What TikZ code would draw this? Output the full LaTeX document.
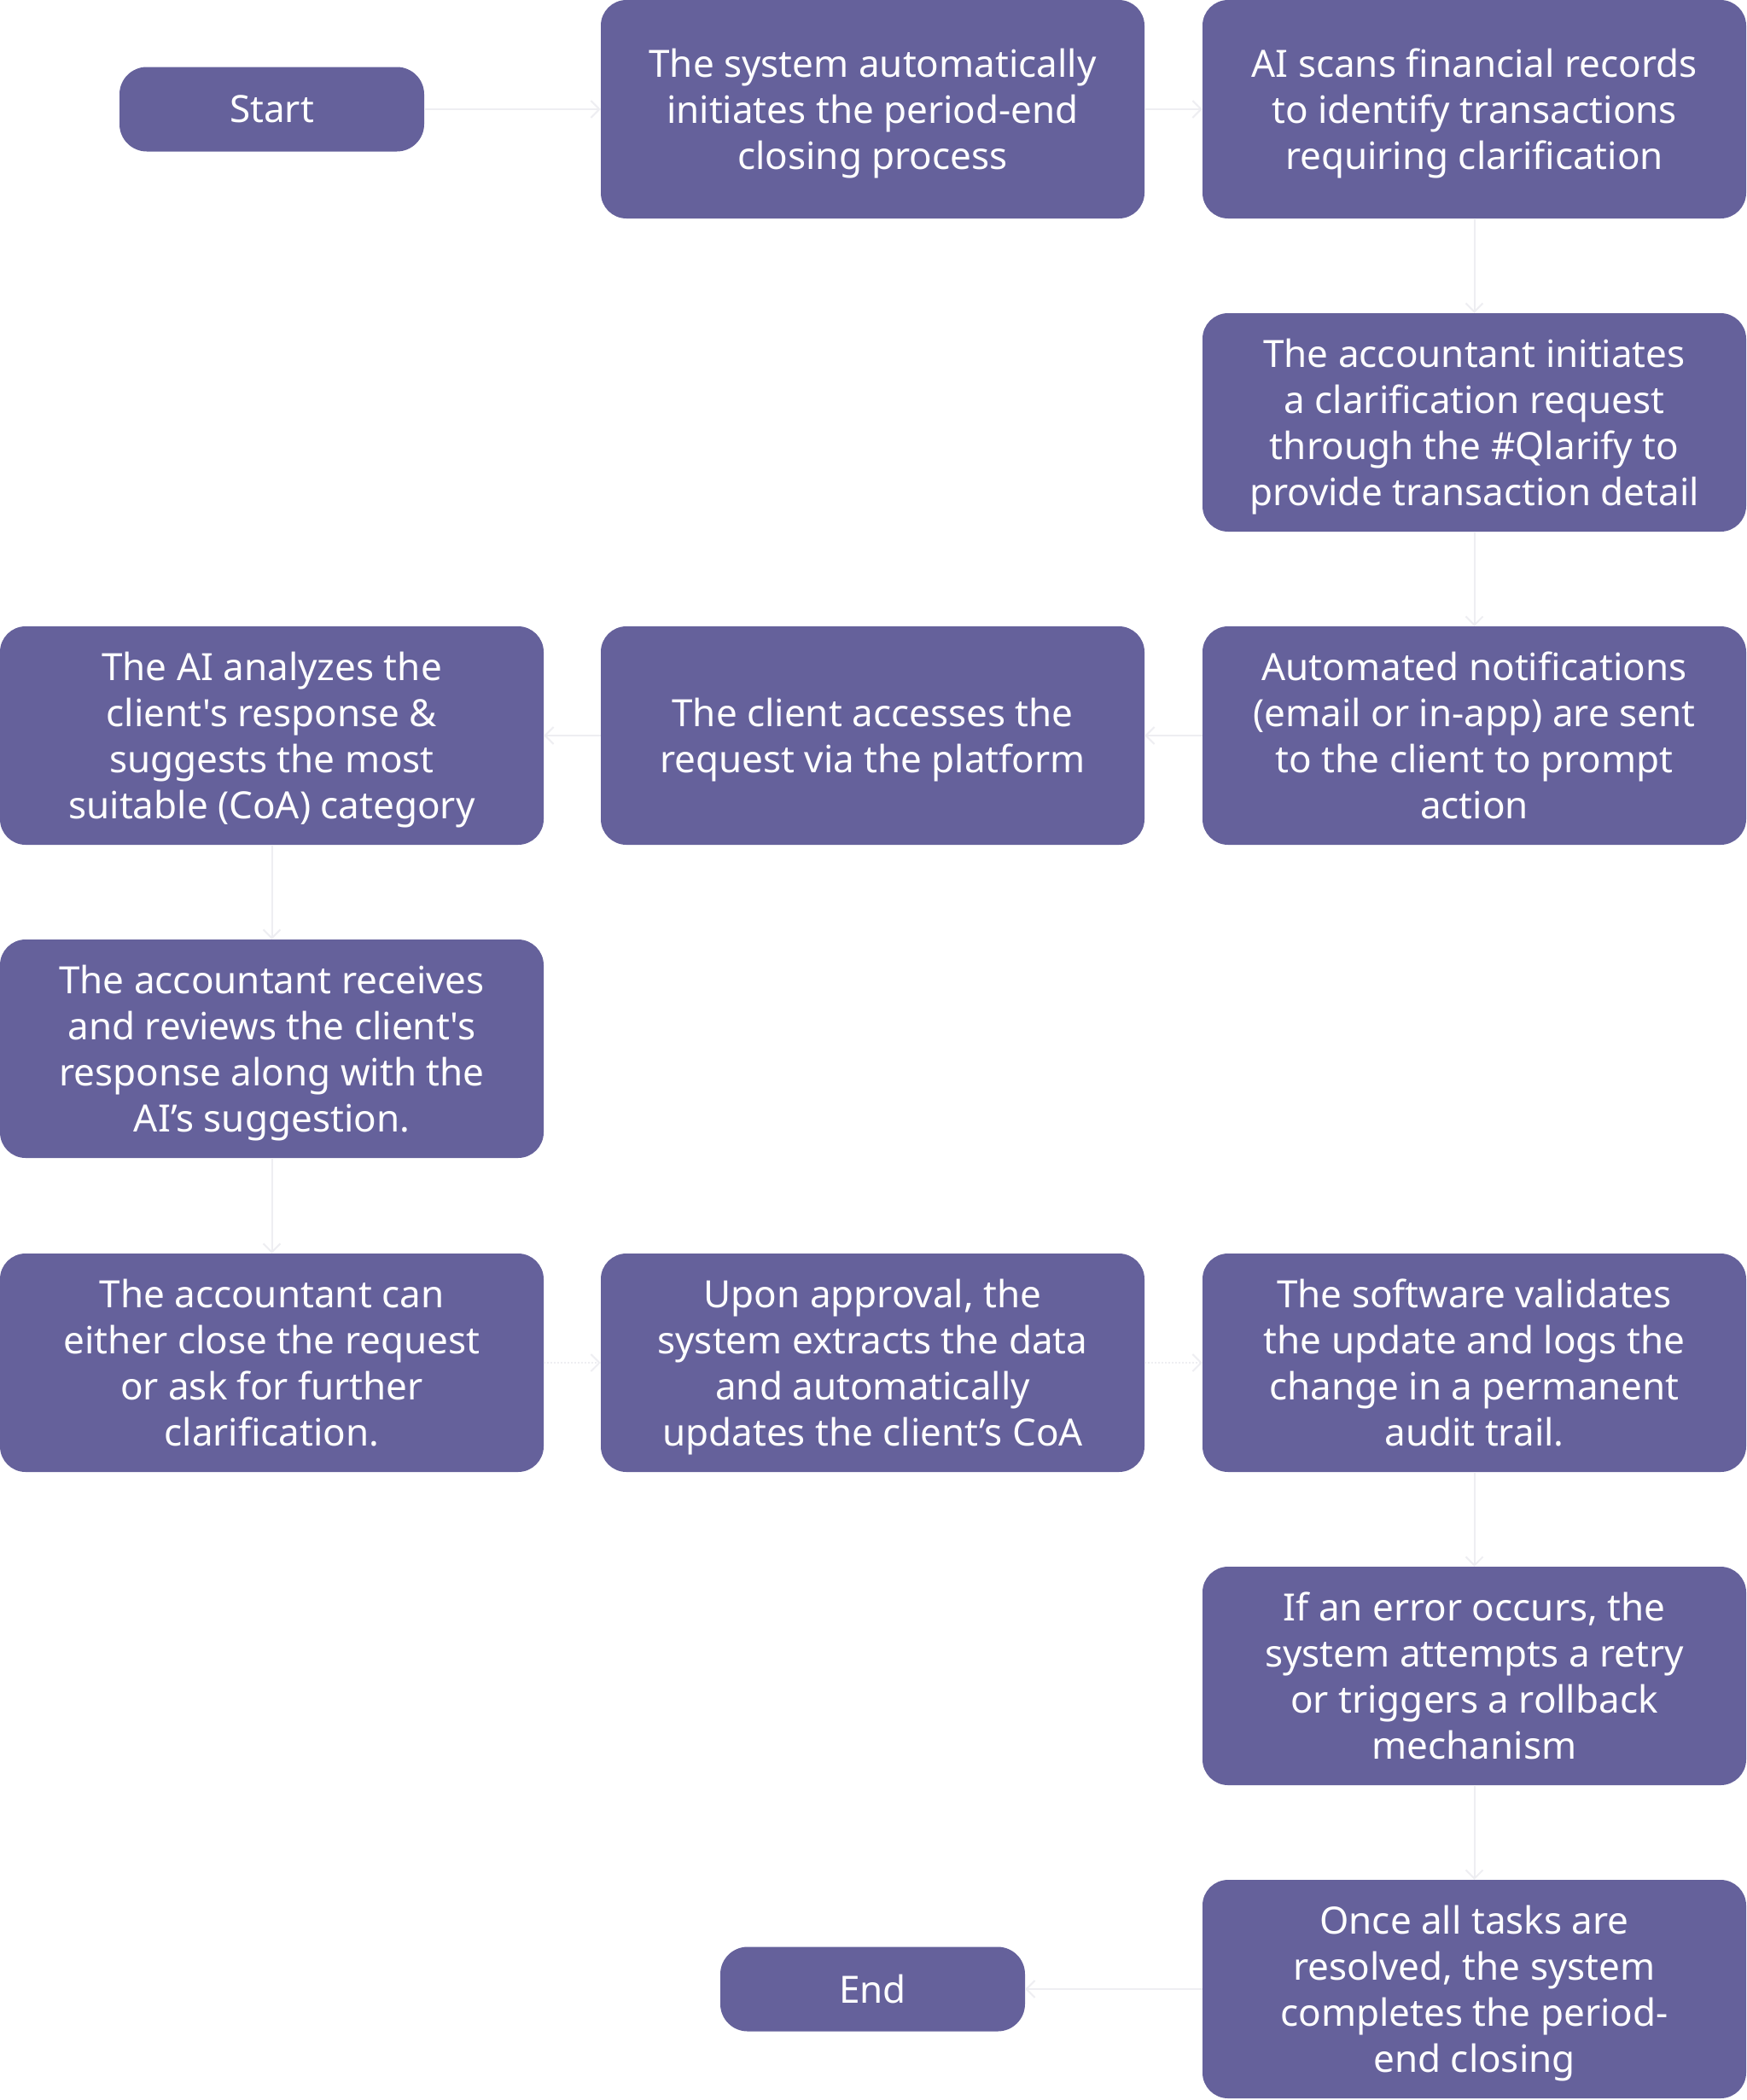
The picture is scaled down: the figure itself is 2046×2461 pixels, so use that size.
\documentclass[tikz,border=0pt]{standalone}
\usepackage{fontspec}
\setmainfont{Noto Sans}[Ligatures=TeXOff]
\usetikzlibrary{arrows.meta}
\definecolor{boxfill}{RGB}{101,97,155}
\definecolor{linkc}{RGB}{238,238,242}
\begin{document}
\begin{tikzpicture}[x=1pt,y=-1pt,
  stepbox/.style={rectangle, rounded corners=30pt, fill=boxfill, text=white,
    minimum width=637pt, minimum height=256pt, inner sep=0pt, align=center,
    text depth=0pt, font=\fontsize{44}{54}\selectfont},
  termbox/.style={rectangle, rounded corners=32pt, fill=boxfill, text=white,
    minimum width=357pt, minimum height=99pt, inner sep=0pt, align=center,
    font=\fontsize{44}{54}\selectfont},
  link/.style={draw=linkc, line width=2pt, -{Straight Barb[length=10pt,width=20pt]}},
  dotlink/.style={link, dotted}]
\useasboundingbox (0,0) rectangle (2046,2461);
\node[termbox] (start) at (318.5,128) {Start};
\node[stepbox] (sys) at (1022.5,128) {The system automatically\\initiates the period-end\\closing process};
\node[stepbox] (scan) at (1727.5,128) {AI scans financial records\\to identify transactions\\requiring clarification};
\node[stepbox] (init) at (1727.5,495) {The accountant initiates\\a clarification request\\through the \#Qlarify to\\provide transaction detail};
\node[stepbox] (analyze) at (318.5,862) {The AI analyzes the\\client's response \&\\suggests the most\\suitable (CoA) category};
\node[stepbox] (client) at (1022.5,862) {The client accesses the\\request via the platform};
\node[stepbox] (notif) at (1727.5,862) {Automated notifications\\(email or in-app) are sent\\to the client to prompt\\action};
\node[stepbox] (receives) at (318.5,1229) {The accountant receives\\and reviews the client's\\response along with the\\AI’s suggestion.};
\node[stepbox] (either) at (318.5,1597) {The accountant can\\either close the request\\or ask for further\\clarification.};
\node[stepbox] (approval) at (1022.5,1597) {Upon approval, the\\system extracts the data\\and automatically\\updates the client’s CoA};
\node[stepbox] (valid) at (1727.5,1597) {The software validates\\the update and logs the\\change in a permanent\\audit trail.};
\node[stepbox] (error) at (1727.5,1964) {If an error occurs, the\\system attempts a retry\\or triggers a rollback\\mechanism};
\node[stepbox] (once) at (1727.5,2331) {Once all tasks are\\resolved, the system\\completes the period-\\end closing};
\node[termbox] (end) at (1022.5,2331) {End};
\draw[link] (start) -- (sys);
\draw[link] (sys) -- (scan);
\draw[link] (scan) -- (init);
\draw[link] (init) -- (notif);
\draw[link] (notif) -- (client);
\draw[link] (client) -- (analyze);
\draw[link] (analyze) -- (receives);
\draw[link] (receives) -- (either);
\draw[dotlink] (either) -- (approval);
\draw[dotlink] (approval) -- (valid);
\draw[link] (valid) -- (error);
\draw[link] (error) -- (once);
\draw[link] (once) -- (end);
\end{tikzpicture}
\end{document}
